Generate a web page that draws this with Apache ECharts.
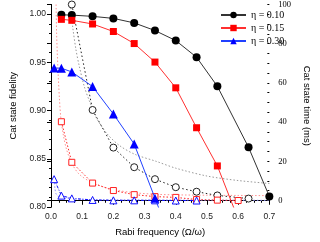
<!DOCTYPE html>
<html><head><meta charset="utf-8">
<script src="https://cdn.jsdelivr.net/npm/echarts@6/dist/echarts.min.js"></script>
<style>html,body{margin:0;padding:0;background:#fff}#c{width:320px;height:242px}</style>
</head><body><div id="c"></div>
<script>
// ---- data ----
const legendNames = ['η = 0.10', 'η = 0.15', 'η = 0.30'];
// fidelity (left axis), filled symbols
const fidBlackX = [0.0333,0.0667,0.1333,0.2,0.2667,0.3333,0.4,0.4667,0.5333,0.6333,0.7];
const fidBlackY = [0.9993,0.9990,0.9977,0.9956,0.9909,0.9830,0.9726,0.9553,0.9252,0.8619,0.8110];
const fidRedX = [0.0333,0.0667,0.1333,0.2,0.2667,0.3333,0.4,0.4667,0.5333,0.6];
const fidRedY = [0.9946,0.9936,0.9898,0.9820,0.9695,0.9503,0.9236,0.8822,0.8426,0.7877];
const fidBlueX = [0.01,0.0333,0.0667,0.1333,0.2,0.2667,0.3333,0.4];
const fidBlueY = [0.9442,0.9439,0.9401,0.9249,0.8964,0.8653,0.8092,0.7530];
// cat state time (right axis), hollow symbols
const timeBlackX = [0.0667,0.1333,0.2,0.2667,0.3333,0.4,0.4667,0.5333,0.6333];
const timeBlackY = [100,46.2,27.0,17.0,10.9,6.8,4.5,2.6,1.0];
const timeRedX = [0.0333,0.0667,0.1333,0.2,0.2667,0.3333,0.4,0.4667,0.5333,0.6];
const timeRedY = [40.2,19.5,8.9,5.1,3.0,2.0,1.6,0.5,0.2,0.0];
const timeBlueX = [0.01,0.0333,0.0667,0.1333,0.2,0.2667,0.3333,0.4,0.4667];
const timeBlueY = [10.9,2.5,1.1,0.3,0.1,0.1,0.1,0.0,0.0];
// fitted curves
const fitBlackX = [0.062,0.07,0.08,0.09,0.107,0.125,0.146,0.18,0.22,0.27,0.337,0.4,0.5,0.6,0.7];
const fitBlackY = [100,88,77,69,58,50,42,34,28,23.5,20,16.5,12.5,10.2,8.7];
const fitRedX = [0.0163,0.018,0.022,0.027,0.0317,0.04,0.05,0.0667,0.09,0.1333,0.2,0.2667,0.3333,0.4,0.5,0.6,0.7];
const fitRedY = [100,85,68,52,42,33,26,19,13.5,9,5.6,4,3.2,2.9,2.7,2.6,2.5];
const fitBlueX = [0.01,0.0125,0.016,0.022,0.033,0.05,0.1,0.2,0.4,0.7];
const fitBlueY = [10.9,6.3,3.5,2.3,1.6,1.1,0.6,0.35,0.2,0.1];
// ticks
const fidTicks = [0.80,0.85,0.90,0.95,1.00];
const fidMinor = [0.80,0.81,0.82,0.83,0.84,0.85,0.86,0.87,0.88,0.89,0.90,0.91,0.92,0.93,0.94,0.95,0.96,0.97,0.98,0.99,1.00,1.01];
const timeTicks = [0,20,40,60,80,100];
const timeMinor = [0,5,10,15,20,25,30,35,40,45,50,55,60,65,70,75,80,85,90,95,100];

const pairs = (xs, ys) => xs.map((x, i) => [x, ys[i]]);
const sans = 'Liberation Sans', serif = 'Liberation Serif';
const lblStyle = {fontSize: 8.5, color: '#222', fontFamily: sans};

const chart = echarts.init(document.getElementById('c'), null, {renderer: 'canvas'});
const filled = (name, xs, ys, color, lineColor, symbol, size) => ({
  name, type: 'line', xAxisIndex: 0, yAxisIndex: 0, data: pairs(xs, ys), clip: true,
  symbol, symbolSize: size, showAllSymbol: true,
  itemStyle: {color: color, borderWidth: 0},
  lineStyle: {color: lineColor, width: 1}, z: 5, animation: false
});
const hollow = (xs, ys, color, symbol, size, dash) => ({
  type: 'line', xAxisIndex: 0, yAxisIndex: 1, data: pairs(xs, ys), clip: true,
  symbol, symbolSize: size, showAllSymbol: true,
  itemStyle: {color: '#fff', borderColor: color, borderWidth: 1},
  lineStyle: {color: color, width: 1, type: dash}, z: 4, animation: false
});
const fit = (xs, ys, color) => ({
  type: 'line', xAxisIndex: 0, yAxisIndex: 1, data: pairs(xs, ys), clip: true,
  symbol: 'none', smooth: 0.3,
  lineStyle: {color: color, width: 1, type: [1.5, 2]}, z: 3, animation: false
});

chart.setOption({
  animation: false,
  backgroundColor: '#fff',
  grid: {left: 36, top: 4, width: 257, height: 207, containLabel: false},
  legend: {
    data: legendNames, orient: 'vertical', left: 220, top: 10, padding: 0,
    itemWidth: 25, itemHeight: 8, itemGap: 3,
    textStyle: {fontFamily: serif, fontSize: 10, color: '#000'}
  },
  xAxis: [
    {type: 'value', min: 0, max: 0.7, interval: 0.1, position: 'bottom',
     axisLine: {show: true, lineStyle: {color: '#000', width: 1}},
     axisTick: {show: true, inside: false, length: 4, lineStyle: {color: '#000'}},
     minorTick: {show: true, splitNumber: 4, length: 2, lineStyle: {color: '#000'}},
     splitLine: {show: false}, minorSplitLine: {show: false},
     axisLabel: Object.assign({margin: 5, formatter: v => v.toFixed(1)}, lblStyle),
     name: 'Rabi frequency (Ω/ω)', nameLocation: 'middle', nameGap: 20,
     nameTextStyle: {fontFamily: sans, fontSize: 9.5, color: '#000'}},
    {type: 'value', min: 0, max: 0.7, interval: 0.1, position: 'top',
     axisLine: {show: true, lineStyle: {color: '#000', width: 1}},
     axisTick: {show: true, inside: true, length: 4, lineStyle: {color: '#000'}},
     minorTick: {show: true, splitNumber: 4, length: 2, lineStyle: {color: '#000'}},
     splitLine: {show: false}, axisLabel: {show: false}}
  ],
  yAxis: [
    {type: 'value', min: 0.8, max: 1.01, position: 'left',
     axisLine: {show: true, lineStyle: {color: '#000', width: 1}},
     axisTick: {show: true, inside: false, length: 4, customValues: fidTicks, lineStyle: {color: '#000'}},
     splitLine: {show: false},
     axisLabel: Object.assign({margin: 5, customValues: fidTicks, formatter: v => v.toFixed(2)}, lblStyle),
     name: 'Cat state fidelity', nameLocation: 'middle', nameGap: 33,
     nameTextStyle: {fontFamily: sans, fontSize: 9.5, color: '#000'}},
    {type: 'value', min: -3.3, max: 100, position: 'right',
     axisLine: {show: true, lineStyle: {color: '#000', width: 1}},
     axisTick: {show: true, inside: true, length: 4, customValues: timeTicks, lineStyle: {color: '#000'}},
     splitLine: {show: false},
     axisLabel: {show: true, margin: 9, customValues: timeTicks, fontSize: 8.5, color: '#000', fontFamily: serif},
     name: 'Cat state time (ms)', nameLocation: 'middle', nameGap: 24, nameRotate: -90,
     nameTextStyle: {fontFamily: sans, fontSize: 9.5, color: '#000'}},
    {type: 'value', min: 0.8, max: 1.01, position: 'left',
     axisLine: {show: false}, splitLine: {show: false}, axisLabel: {show: false},
     axisTick: {show: true, inside: false, length: 2, customValues: fidMinor, lineStyle: {color: '#000'}}},
    {type: 'value', min: -3.3, max: 100, position: 'right',
     axisLine: {show: false}, splitLine: {show: false}, axisLabel: {show: false},
     axisTick: {show: true, inside: true, length: 2, customValues: timeMinor, lineStyle: {color: '#000'}}}
  ],
  series: [
    fit(fitBlackX, fitBlackY, '#999'),
    fit(fitRedX, fitRedY, '#ff9090'),
    fit(fitBlueX, fitBlueY, '#8c8cff'),
    hollow(timeBlackX, timeBlackY, '#222', 'circle', 7, [1.5, 2.5]),
    hollow(timeRedX, timeRedY, '#ff2020', 'rect', 6, [1.5, 2]),
    hollow(timeBlueX, timeBlueY, '#1010ff', 'triangle', 7, [3, 1.5, 1, 1.5]),
    filled(legendNames[0], fidBlackX, fidBlackY, '#000', '#333', 'circle', 8),
    filled(legendNames[1], fidRedX, fidRedY, '#ff0000', '#ff3030', 'rect', 7),
    filled(legendNames[2], fidBlueX, fidBlueY, '#0000ff', '#2040ff', 'triangle', 9)
  ]
});
</script></body></html>
